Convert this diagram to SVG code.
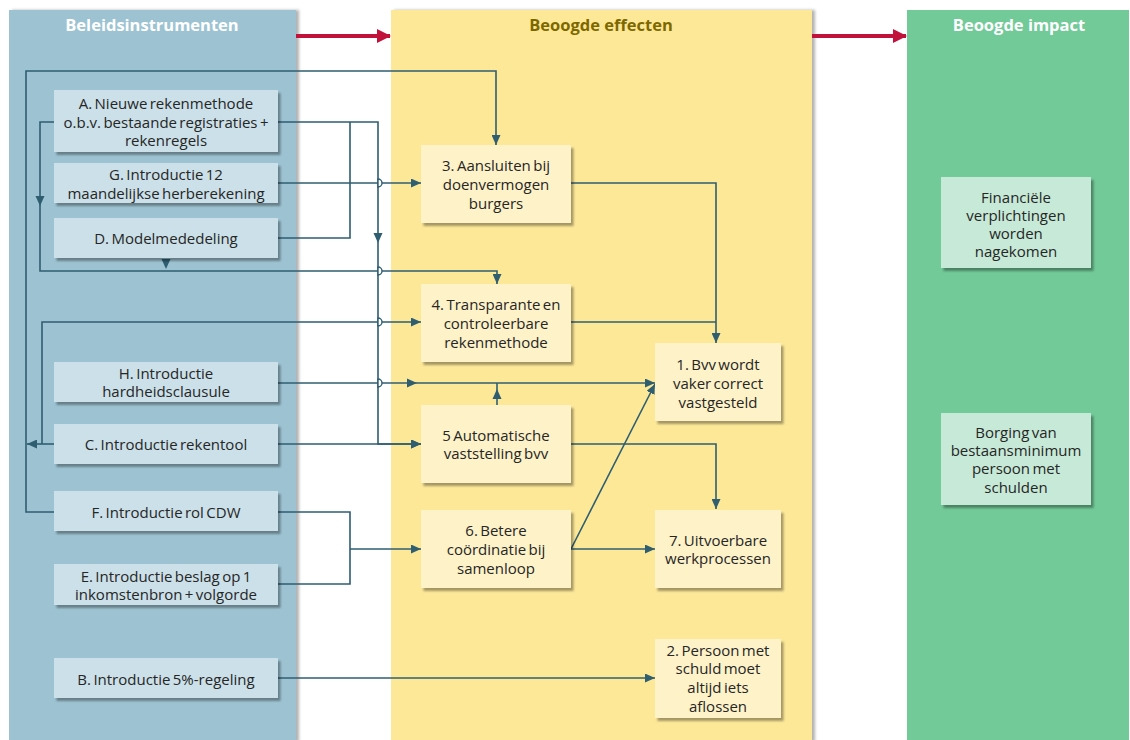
<svg xmlns="http://www.w3.org/2000/svg" xmlns:xlink="http://www.w3.org/1999/xlink" width="1130" height="740" viewBox="0 0 1130 740">
<style>
  text { font-family: "Open Sans", "Noto Sans", "Liberation Sans", sans-serif; font-size: 15px; fill: #262626; text-anchor: middle; dominant-baseline: central; letter-spacing: 0; word-spacing: -1.5px; }
  .hdr { font-size: 16.5px; font-weight: bold; letter-spacing: 0; word-spacing: 0; }
  .hw { fill: #ffffff; }
  .hy { fill: #7d6800; }
  .bbox { fill: #cbe0e8; filter: url(#sh); }
  .ybox { fill: #fef2c8; filter: url(#sh); }
  .gbox { fill: #c6ead7; filter: url(#sh); }
  .con { fill: none; stroke: #2f5e71; stroke-width: 1.6; }
  .arr { marker-end: url(#ah); }
  .hop { fill: #ffffff; stroke: #2f5e71; stroke-width: 1.4; }
  .ahd { fill: #2f5e71; }
  .red { fill: none; stroke: #c1123c; stroke-width: 4; }
</style>
<defs>
  <filter id="sh" x="-10%" y="-10%" width="125%" height="130%">
    <feDropShadow dx="2.5" dy="3" stdDeviation="1.3" flood-color="#000000" flood-opacity="0.35"/>
  </filter>
  <filter id="csh" x="-5%" y="-5%" width="110%" height="110%">
    <feDropShadow dx="3" dy="0" stdDeviation="1.5" flood-color="#000000" flood-opacity="0.3"/>
  </filter>
  <marker id="ah" markerUnits="userSpaceOnUse" viewBox="0 0 10 9" refX="10" refY="4.5" markerWidth="10" markerHeight="9" orient="auto">
    <path d="M0,0 L10,4.5 L0,9 Z" fill="#2f5e71"/>
  </marker>
  <marker id="rah" markerUnits="userSpaceOnUse" viewBox="0 0 14 14" refX="13" refY="7" markerWidth="14" markerHeight="14" orient="auto">
    <path d="M0,0 L14,7 L0,14 Z" fill="#c1123c"/>
  </marker>
  <path id="tri" d="M0,0 L-10,-4.5 L-10,4.5 Z"/>
</defs>

<!-- columns -->
<g id="columns">
  <rect x="9" y="10" width="287" height="732" fill="#9dc3d2" filter="url(#csh)"/>
  <rect x="391" y="10" width="421" height="732" fill="#fde898" filter="url(#csh)"/>
  <rect x="907" y="10" width="222" height="732" fill="#72ca98"/>
  <text class="hdr hw" x="152" y="24">Beleidsinstrumenten</text>
  <text class="hdr hy" x="601" y="24">Beoogde effecten</text>
  <text class="hdr hw" x="1019" y="24">Beoogde impact</text>
  <path class="red" d="M296,36 H390" marker-end="url(#rah)"/>
  <path class="red" d="M812,36 H906" marker-end="url(#rah)"/>
</g>

<!-- connectors -->
<g id="connectors">
  <!-- F loop to box 3 -->
  <path class="con arr" d="M54,512 H26 V71 H496 V145"/>
  <!-- A left loop to box 4 -->
  <path class="con arr" d="M54,122 H40 V271 H497 V284"/>
  <use href="#tri" class="ahd" transform="translate(40,206) rotate(90)"/>
  <use href="#tri" class="ahd" transform="translate(166,269) rotate(90)"/>
  <!-- A right / D right down to box 5 -->
  <path class="con arr" d="M278,122 H378 V444 H421"/>
  <path class="con" d="M278,238 H350 V122"/>
  <use href="#tri" class="ahd" transform="translate(378,243) rotate(90)"/>
  <!-- G to box 3 -->
  <path class="con arr" d="M278,183 H421"/>
  <!-- C left -->
  <path class="con arr" d="M54,444 H27"/>
  <path class="con arr" d="M42,444 V322 H421"/>
  <!-- C right to box 5 -->
  <path class="con arr" d="M278,444 H421"/>
  <!-- H to box 1 -->
  <path class="con arr" d="M278,383 H655"/>
  <use href="#tri" class="ahd" transform="translate(417,383)"/>
  <!-- box 5 up -->
  <path class="con" d="M497,405 V383"/>
  <use href="#tri" class="ahd" transform="translate(497,389) rotate(-90)"/>
  <!-- box 3 / 4 to box 1 -->
  <path class="con arr" d="M571,183 H716 V343"/>
  <path class="con" d="M571,322 H716"/>
  <!-- box 5 to box 7 -->
  <path class="con arr" d="M571,444 H716 V509"/>
  <!-- box 6 to box 1 and 7 -->
  <path class="con arr" d="M571,549 L655,384"/>
  <path class="con arr" d="M571,549 H655"/>
  <!-- F / E to box 6 -->
  <path class="con" d="M278,512 H350 V584 H278"/>
  <path class="con arr" d="M350,549 H421"/>
  <!-- B to box 2 -->
  <path class="con arr" d="M278,678 H655"/>
  <!-- line hops on x=378 -->
  <path class="hop" d="M378,179 A4,4 0 0 1 378,187 Z"/>
  <path class="hop" d="M378,267 A4,4 0 0 1 378,275 Z"/>
  <path class="hop" d="M378,318 A4,4 0 0 1 378,326 Z"/>
  <path class="hop" d="M378,379 A4,4 0 0 1 378,387 Z"/>
</g>

<!-- policy instruments -->
<g id="nodeA"><rect class="bbox" x="54" y="90" width="224" height="62"/>
  <text x="166" y="103">A. Nieuwe rekenmethode</text><text x="166" y="122">o.b.v. bestaande registraties +</text><text x="166" y="140">rekenregels</text></g>
<g id="nodeG"><rect class="bbox" x="54" y="163" width="224" height="40"/>
  <text x="166" y="174">G. Introductie 12</text><text x="166" y="193">maandelijkse herberekening</text></g>
<g id="nodeD"><rect class="bbox" x="54" y="218" width="224" height="40"/>
  <text x="166" y="238">D. Modelmededeling</text></g>
<g id="nodeH"><rect class="bbox" x="54" y="362" width="224" height="40"/>
  <text x="166" y="373">H. Introductie</text><text x="166" y="391">hardheidsclausule</text></g>
<g id="nodeC"><rect class="bbox" x="54" y="424" width="224" height="40"/>
  <text x="166" y="444">C. Introductie rekentool</text></g>
<g id="nodeF"><rect class="bbox" x="54" y="491" width="224" height="40"/>
  <text x="166" y="512">F. Introductie rol CDW</text></g>
<g id="nodeE"><rect class="bbox" x="54" y="564" width="224" height="41"/>
  <text x="166" y="576">E. Introductie beslag op 1</text><text x="166" y="594">inkomstenbron + volgorde</text></g>
<g id="nodeB"><rect class="bbox" x="54" y="658" width="224" height="40"/>
  <text x="166" y="679">B. Introductie 5%-regeling</text></g>

<!-- effects -->
<g id="node3"><rect class="ybox" x="421" y="145" width="150" height="78"/>
  <text x="496" y="165">3. Aansluiten bij</text><text x="496" y="184">doenvermogen</text><text x="496" y="203">burgers</text></g>
<g id="node4"><rect class="ybox" x="421" y="284" width="150" height="78"/>
  <text x="496" y="304">4. Transparante en</text><text x="496" y="323">controleerbare</text><text x="496" y="342">rekenmethode</text></g>
<g id="node5"><rect class="ybox" x="421" y="405" width="150" height="78"/>
  <text x="496" y="435">5 Automatische</text><text x="496" y="453">vaststelling bvv</text></g>
<g id="node6"><rect class="ybox" x="421" y="510" width="150" height="78"/>
  <text x="496" y="530">6. Betere</text><text x="496" y="549">coördinatie bij</text><text x="496" y="568">samenloop</text></g>
<g id="node1"><rect class="ybox" x="655" y="343" width="126" height="78"/>
  <text x="718" y="364">1. Bvv wordt</text><text x="718" y="383">vaker correct</text><text x="718" y="402">vastgesteld</text></g>
<g id="node7"><rect class="ybox" x="655" y="510" width="126" height="78"/>
  <text x="718" y="540">7. Uitvoerbare</text><text x="718" y="558">werkprocessen</text></g>
<g id="node2"><rect class="ybox" x="655" y="639" width="126" height="79"/>
  <text x="718" y="650">2. Persoon met</text><text x="718" y="668">schuld moet</text><text x="718" y="687">altijd iets</text><text x="718" y="706">aflossen</text></g>

<!-- impact -->
<g id="impact1"><rect class="gbox" x="941" y="177" width="150" height="91"/>
  <text x="1016" y="197">Financiële</text><text x="1016" y="215">verplichtingen</text><text x="1016" y="233">worden</text><text x="1016" y="251">nagekomen</text></g>
<g id="impact2"><rect class="gbox" x="941" y="413" width="150" height="92"/>
  <text x="1016" y="432">Borging van</text><text x="1016" y="450">bestaansminimum</text><text x="1016" y="468">persoon met</text><text x="1016" y="487">schulden</text></g>
</svg>
